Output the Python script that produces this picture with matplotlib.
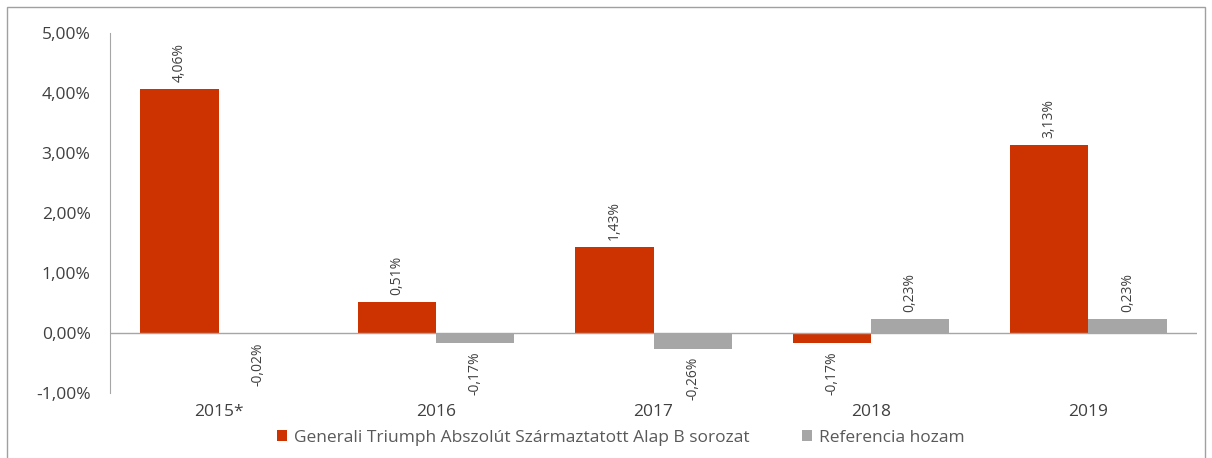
import matplotlib.pyplot as plt
from matplotlib.patches import Rectangle
import numpy as np

years = ['2015*', '2016', '2017', '2018', '2019']
fund = [4.06, 0.51, 1.43, -0.17, 3.13]
reference = [-0.02, -0.17, -0.26, 0.23, 0.23]
fund_name = 'Generali Triumph Abszolút Származtatott Alap B sorozat'
ref_name = 'Referencia hozam'

red = '#CC3300'
grey = '#A6A6A6'
txt = '#404040'

def fmt(v):
    return ('%.2f%%' % v).replace('.', ',')

fig = plt.figure(figsize=(12.12, 4.58), dpi=100)
ax = fig.add_axes([110 / 1212, 1 - 393 / 458, 1087 / 1212, 360 / 458])

x = np.arange(len(years))
w = 0.36
b1 = ax.bar(x - w / 2, fund, w, color=red, label=fund_name)
b2 = ax.bar(x + w / 2, reference, w, color=grey, label=ref_name)

for bars, vals in ((b1, fund), (b2, reference)):
    for bar, v in zip(bars, vals):
        cx = bar.get_x() + bar.get_width() / 2
        if v >= 0:
            ax.annotate(fmt(v), (cx, v), xytext=(0, 5), textcoords='offset points',
                        rotation=90, ha='center', va='bottom', fontsize=10,
                        color=txt, family='Open Sans')
        else:
            ax.annotate(fmt(v), (cx, v), xytext=(0, -6), textcoords='offset points',
                        rotation=90, ha='center', va='top', fontsize=10,
                        color=txt, family='Open Sans')

ax.set_xlim(-0.5, len(years) - 0.5)
ax.set_ylim(-1, 5)
ax.set_yticks(range(-1, 6))
ax.set_yticklabels([fmt(v) for v in range(-1, 6)], family='Open Sans', fontsize=12.5, color=txt)
ax.set_xticks(x)
ax.set_xticklabels(years, family='Open Sans', fontsize=12.5, color=txt)
ax.tick_params(axis='both', length=0)
ax.tick_params(axis='y', pad=14)
ax.tick_params(axis='x', pad=8)
ax.axhline(0, color=grey, lw=1)
for s in ('top', 'right', 'bottom'):
    ax.spines[s].set_visible(False)
ax.spines['left'].set_color(grey)

ax.legend(loc='center', bbox_to_anchor=(0.47, -0.125), ncol=2, frameon=False,
          prop={'family': 'Open Sans', 'size': 12.5}, labelcolor='#595959',
          handlelength=0.6, handleheight=0.6, handletextpad=0.4, columnspacing=3,
          borderaxespad=0, borderpad=0)

fig.patches.append(Rectangle((7 / 1212, -0.01), 1198 / 1212, 1 - 7 / 458 + 0.01,
                             transform=fig.transFigure, fill=False,
                             edgecolor='#A0A0A0', lw=1))

fig.savefig('out.png', dpi=100)
